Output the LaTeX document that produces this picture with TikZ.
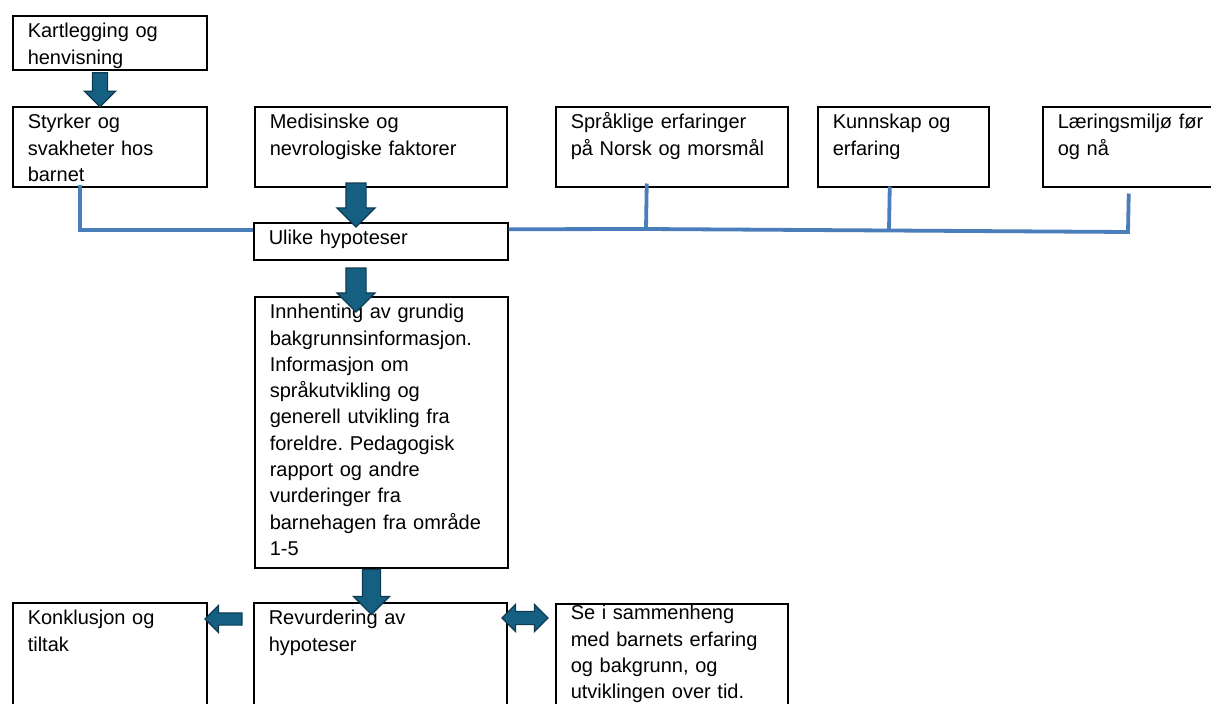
\documentclass[tikz,border=0pt]{standalone}
\usepackage{fontspec}
\setmainfont{Liberation Sans}
\usepackage{xcolor}
\definecolor{ArrowFill}{HTML}{156082}
\definecolor{ArrowEdge}{HTML}{0E3B52}
\definecolor{LinkBlue}{HTML}{4A7EBB}
\usetikzlibrary{shapes.arrows}
\frenchspacing

\begin{document}
\begin{tikzpicture}[
    x=1pt, y=-1pt,
    box/.style={
      rectangle, draw=black, line width=1.5pt, anchor=north west,
      inner xsep=15pt, inner ysep=0pt, text height=22pt,
      align=left, font=\fontsize{20}{26.3}\selectfont
    },
    fat/.style={
      single arrow, draw=ArrowEdge, fill=ArrowFill, line width=1.2pt,
      inner xsep=0pt, single arrow head extend=#1, single arrow head indent=0pt
    },
    fatboth/.style={
      double arrow, draw=ArrowEdge, fill=ArrowFill, line width=1.2pt,
      inner xsep=0pt, double arrow head extend=#1, double arrow head indent=0pt
    },
    link/.style={LinkBlue, line width=3.8pt}
  ]
    \fill[white] (0,0) rectangle (1211,704);
    \useasboundingbox (0,0) rectangle (1211,704);

    \node[box, text width=164pt, text depth=32pt] (kart) at (12,15)
      {Kartlegging og\\henvisning};
    \node[box, text width=164pt, text depth=58pt] (styrker) at (12,106)
      {Styrker og\\svakheter hos\\barnet};
    \node[box, text width=222pt, text depth=58pt] (medisin) at (254,106)
      {Medisinske og\\nevrologiske faktorer};
    \node[box, text width=202pt, text depth=58pt] (spraak) at (555,106)
      {Språklige erfaringer\\på Norsk og morsmål};
    \node[box, text width=141pt, text depth=58pt] (kunnskap) at (817,106)
      {Kunnskap og\\erfaring};
    \node[box, text width=153pt, text depth=58pt] (miljo) at (1042,106)
      {Læringsmiljø før\\og nå};
    \node[box, text width=224pt, text depth=15pt] (hypo) at (253,222)
      {Ulike hypoteser};
    \node[box, text width=223pt, text depth=249pt] (innhent) at (254,296)
      {Innhenting av grundig\\bakgrunnsinformasjon.\\Informasjon om\\språkutvikling og\\generell utvikling fra\\foreldre. Pedagogisk\\rapport og andre\\vurderinger fra\\barnehagen fra område\\1-5};
    \node[box, text width=164pt, text depth=100pt] (konkl) at (12,602)
      {Konklusjon og\\tiltak};
    \node[box, text width=223pt, text depth=100pt] (revurd) at (253,602)
      {Revurdering av\\hypoteser};
    \node[box, text width=202pt, text height=16pt, text depth=106pt] (sammen) at (555,603)
      {Se i sammenheng\\med barnets erfaring\\og bakgrunn, og\\utviklingen over tid.};

    \coordinate (j1) at (646,229);
    \coordinate (j2) at (889,230.5);
    \coordinate (j3) at (1128,232);
    \draw[link] ([xshift=-30pt,yshift=3pt]styrker.south) |- ([yshift=11pt]hypo.west);
    \draw[link] ([yshift=12pt]hypo.east) -- (j1) -- (j2) -- (j3)
      -- ([xshift=-5.5pt,yshift=-6pt]miljo.south);
    \draw[link] ([xshift=-25pt,yshift=4pt]spraak.south) -- (j1);
    \draw[link] ([xshift=-13.5pt,yshift=1pt]kunnskap.south) -- (j2);

    \node[fat=8pt, inner ysep=7pt, minimum height=34pt, rotate=-90] (f1) at (100,86) {};
    \node[fat=9pt, inner ysep=9.5pt, minimum height=44pt, rotate=-90] (f2) at (356,200) {};
    \node[fat=9pt, inner ysep=9.5pt, minimum height=44pt, rotate=-90] (f3) at (356,285) {};
    \node[fat=9pt, inner ysep=8.5pt, minimum height=45pt, rotate=-90] (f4) at (371.5,587.5) {};
    \node[fat=7.5pt, inner ysep=5.5pt, minimum height=37pt, rotate=180] (f5) at (226.5,619) {};
    \node[fatboth=7pt, inner ysep=6pt, minimum height=46pt] (f6) at (525,618) {};
  \end{tikzpicture}
\end{document}
